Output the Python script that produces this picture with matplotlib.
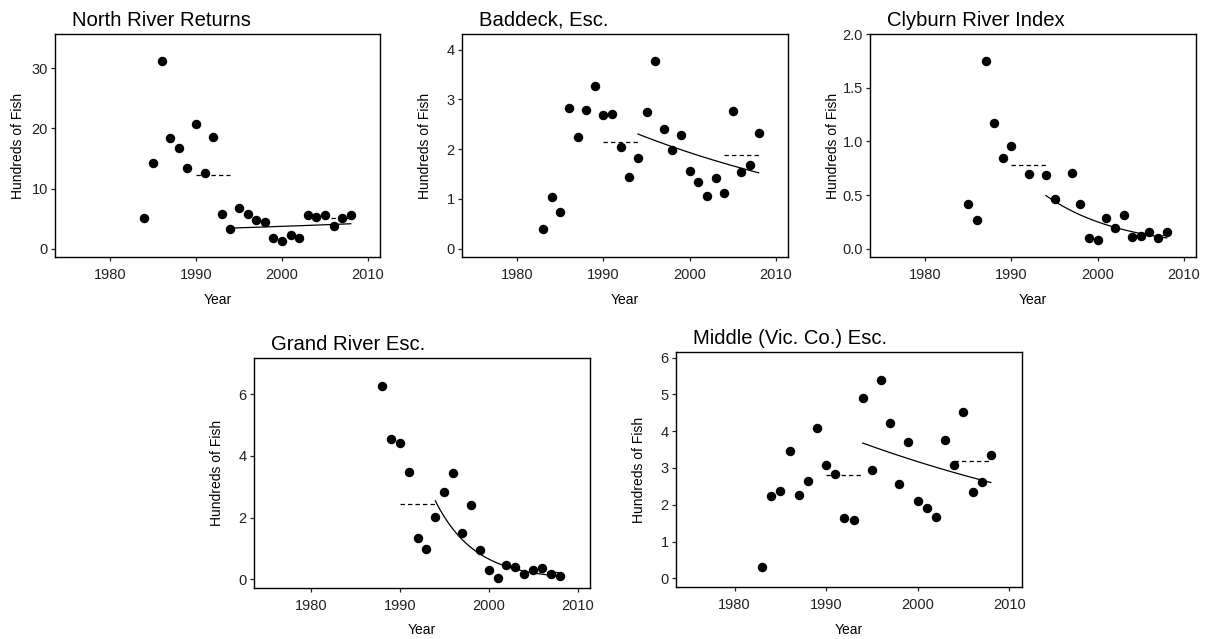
import numpy as np
import matplotlib
matplotlib.use("Agg")
import matplotlib.pyplot as plt

plt.rcParams["font.family"] = ["Liberation Sans", "DejaVu Sans"]

# --- data (hundreds of fish) ---
north_years = list(range(1984, 2009))
north_vals = [5.1, 14.2, 31.2, 18.4, 16.7, 13.4, 20.8, 12.6, 18.6, 5.7, 3.2, 6.7, 5.7,
              4.8, 4.5, 1.8, 1.3, 2.3, 1.8, 5.6, 5.3, 5.6, 3.7, 5.1, 5.6]

baddeck_years = list(range(1983, 2009))
baddeck_vals = [0.40, 1.03, 0.74, 2.82, 2.24, 2.78, 3.26, 2.68, 2.70, 2.04, 1.44, 1.83, 2.75,
                3.77, 2.41, 1.99, 2.29, 1.57, 1.35, 1.06, 1.42, 1.11, 2.77, 1.55, 1.68, 2.33]

clyburn_years = [1985, 1986, 1987, 1988, 1989, 1990, 1992, 1994, 1995, 1997, 1998, 1999,
                 2000, 2001, 2002, 2003, 2004, 2005, 2006, 2007, 2008]
clyburn_vals = [0.42, 0.27, 1.75, 1.17, 0.85, 0.96, 0.70, 0.69, 0.46, 0.71, 0.42, 0.10,
                0.08, 0.29, 0.19, 0.31, 0.11, 0.12, 0.16, 0.10, 0.16]

grand_years = list(range(1988, 2009))
grand_vals = [6.27, 4.54, 4.43, 3.49, 1.34, 0.98, 2.02, 2.83, 3.46, 1.49, 2.42, 0.95, 0.30,
              0.04, 0.47, 0.41, 0.19, 0.32, 0.37, 0.17, 0.12]

middle_years = list(range(1983, 2009))
middle_vals = [0.30, 2.23, 2.37, 3.47, 2.26, 2.65, 4.09, 3.08, 2.85, 1.65, 1.59, 4.90, 2.95,
               5.38, 4.23, 2.57, 3.71, 2.11, 1.91, 1.68, 3.77, 3.08, 4.52, 2.35, 2.63, 3.34]

titles = ["North River Returns", "Baddeck, Esc.", "Clyburn River Index",
          "Grand River Esc.", "Middle (Vic. Co.) Esc."]
yticks = [[0, 10, 20, 30], [0, 1, 2, 3, 4], [0.0, 0.5, 1.0, 1.5, 2.0],
          [0, 2, 4, 6], [0, 1, 2, 3, 4, 5, 6]]
xticks = [1980, 1990, 2000, 2010]

# axes boxes in pixels: left, right, top, bottom
W, H = 1205, 639
boxes = [(55, 380, 34, 257), (462, 788, 34, 257), (870, 1196, 34, 257),
         (254, 590, 358, 588), (676, 1022, 352, 587)]

series = [(north_years, north_vals), (baddeck_years, baddeck_vals),
          (clyburn_years, clyburn_vals), (grand_years, grand_vals),
          (middle_years, middle_vals)]

fig = plt.figure(figsize=(W / 100, H / 100), dpi=100)

for i, (yrs, vals) in enumerate(series):
    yrs = np.array(yrs, dtype=float)
    vals = np.array(vals, dtype=float)
    L, R, T, B = boxes[i]
    ax = fig.add_axes([L / W, (H - B) / H, (R - L) / W, (B - T) / H])

    ax.plot(yrs, vals, "o", color="black", ms=5.8, zorder=3)

    # means of 1990-94 and 2004-08 (dashed)
    for a, b in [(1990, 1994), (2004, 2008)]:
        m = (yrs >= a) & (yrs <= b)
        mu = vals[m].mean()
        ax.plot([a, b], [mu, mu], color="black", lw=0.9, ls=(0, (3.5, 2.5)))

    # exponential (log-linear) trend 1994-2008
    m = (yrs >= 1994) & (yrs <= 2008)
    slope, icpt = np.polyfit(yrs[m], np.log(vals[m]), 1)
    xs = np.linspace(1994, 2008, 100)
    ax.plot(xs, np.exp(icpt + slope * xs), color="black", lw=0.9)

    top = 1.1 * vals.max()
    ax.set_ylim(-0.04 * top, 1.04 * top)
    ax.set_xlim(1973.6, 2011.4)
    ax.set_xticks(xticks)
    ax.set_yticks(yticks[i])
    if i == 2:
        ax.set_yticklabels([f"{v:.1f}" for v in yticks[i]])
    ax.tick_params(direction="out", length=3.2, width=0.9, labelsize=10.5,
                   colors="#222222")
    ax.tick_params(axis="x", pad=4.5)
    ax.tick_params(axis="y", pad=2)
    for s in ax.spines.values():
        s.set_linewidth(1.0)

    ax.set_xlabel("Year", fontsize=10)
    ax.set_ylabel("Hundreds of Fish", fontsize=10)
    ax.xaxis.set_label_coords(0.5, -35.5 / (B - T))
    ax.yaxis.set_label_coords(-30 / (R - L), 0.5)

    ax.annotate(titles[i], xy=(0, 1), xycoords="axes fraction",
                xytext=(12, 6), textcoords="offset points",
                fontsize=14.6, ha="left", va="baseline")

fig.savefig("out.png", dpi=100)
